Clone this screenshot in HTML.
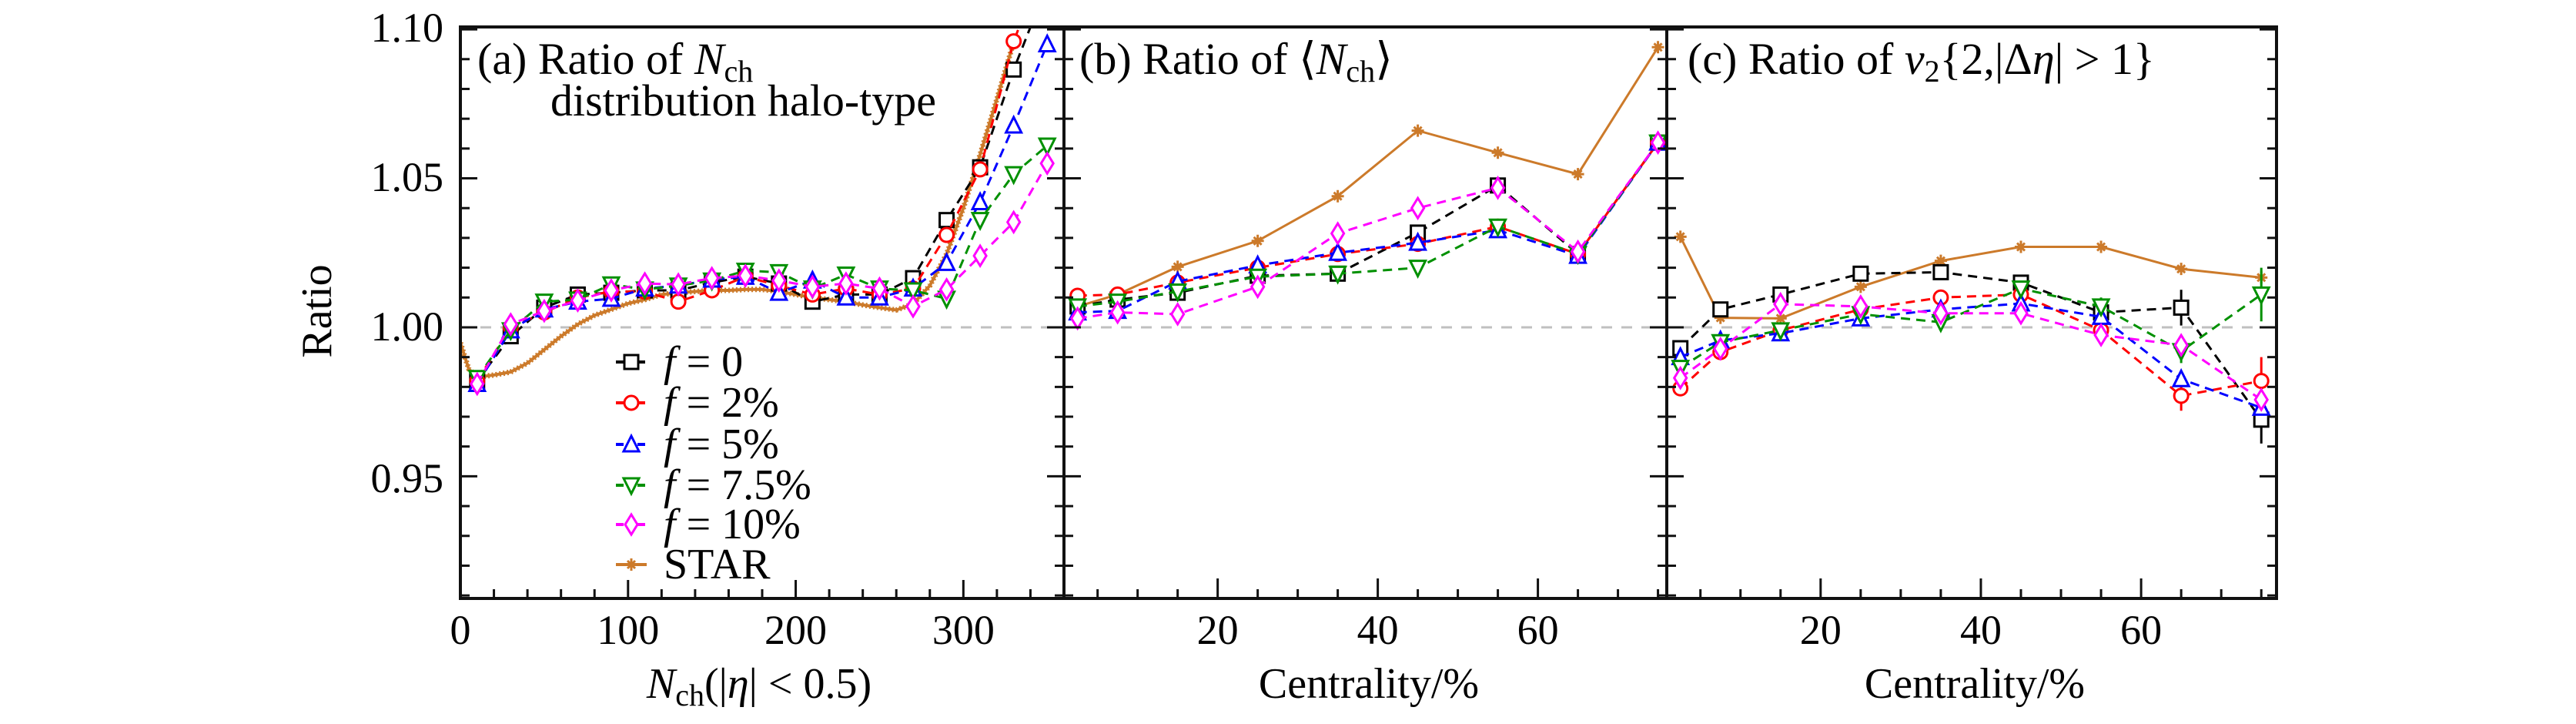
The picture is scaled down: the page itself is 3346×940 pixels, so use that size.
<!DOCTYPE html>
<html><head><meta charset="utf-8"><style>
html,body{margin:0;padding:0;background:#fff;}
svg, svg text{font-family:"Liberation Serif","DejaVu Serif","Noto Serif CJK SC",serif;}
</style></head><body>
<svg id="chart" width="3346" height="935" viewBox="0 0 3346 935" xmlns="http://www.w3.org/2000/svg">
<rect x="0" y="0" width="3346" height="935" fill="#fff"/>
<g id="plots"></g>
<g id="frames"></g>
<g font-size="54" text-anchor="end">
<text x="576" y="54">1.10</text>
<text x="576" y="248">1.05</text>
<text x="576" y="442">1.00</text>
<text x="576" y="639">0.95</text>
</g>
<text x="0" y="0" font-size="56" text-anchor="middle" transform="translate(430,404) rotate(-90)">Ratio</text>
<g font-size="54" text-anchor="middle" id="xticklabels"></g>
<text x="986" y="906" font-size="56" text-anchor="middle"><tspan font-style="italic">N</tspan><tspan font-size="40" dy="10">ch</tspan><tspan dy="-10">(|</tspan><tspan font-style="italic">η</tspan><tspan>| &lt; 0.5)</tspan></text>
<text x="1778" y="906" font-size="56" text-anchor="middle">Centrality/%</text>
<text x="2565" y="906" font-size="56" text-anchor="middle">Centrality/%</text>
<text x="620" y="96" font-size="58">(a)  Ratio of <tspan font-style="italic">N</tspan><tspan font-size="40" dy="10">ch</tspan></text>
<text x="715" y="150" font-size="58">distribution halo-type</text>
<text x="1402" y="96" font-size="58">(b)  Ratio of ⟨<tspan font-style="italic">N</tspan><tspan font-size="40" dy="10">ch</tspan><tspan dy="-10">⟩</tspan></text>
<text x="2192" y="96" font-size="58">(c)  Ratio of <tspan font-style="italic">v</tspan><tspan font-size="40" dy="10">2</tspan><tspan dy="-10">{2,|Δ</tspan><tspan font-style="italic">η</tspan><tspan>| &gt; 1}</tspan></text>
<g id="legend"></g>
</svg>
<script>
// ---- data ----
const seriesNames = ["f=0","f=2%","f=5%","f=7.5%","f=10%"];
const seriesColors = ["#000000","#ff0000","#0000ff","#009000","#ff00ff"];
const starColor = "#cc7a2a";
// panel a
const nchX = [10,30,50,70,90,110,130,150,170,190,210,230,250,270,290,310,330,350];
const aF0   = [0.982,0.997,1.0066,1.011,1.0116,1.0124,1.0124,1.015,1.017,1.0147,1.0086,1.011,1.011,1.0165,1.036,1.0537,1.0865,1.115];
const aF2   = [0.982,1.000,1.005,1.010,1.012,1.012,1.0086,1.0124,1.017,1.014,1.011,1.013,1.011,1.013,1.031,1.053,1.096,1.125];
const aF5   = [0.981,0.999,1.006,1.0086,1.0096,1.013,1.014,1.016,1.017,1.0116,1.0157,1.010,1.010,1.013,1.0216,1.042,1.0677,1.095];
const aF75  = [0.983,0.999,1.0086,1.0093,1.0144,1.0127,1.014,1.0157,1.019,1.0185,1.013,1.0177,1.013,1.0124,1.0096,1.036,1.0514,1.061];
const aF10  = [0.981,1.001,1.0055,1.009,1.0124,1.0147,1.0144,1.0165,1.0173,1.0157,1.0136,1.0147,1.013,1.007,1.0127,1.024,1.0353,1.055];
const starAX = [0,5,10,20,30,40,50,60,70,80,90,100,110,120,130,140,150,160,170,180,190,200,210,220,230,240,250,260,270,280,290,300,310,320,330];
const starAY = [0.9948,0.986,0.9833,0.984,0.985,0.988,0.9925,0.997,1.001,1.004,1.006,1.008,1.0093,1.011,1.0116,1.012,1.0124,1.0124,1.0127,1.0127,1.012,1.011,1.010,1.0093,1.0086,1.0075,1.0066,1.0058,1.0078,1.014,1.0246,1.040,1.058,1.0766,1.0957];
// panel b
const centX = [2.5,7.5,15,25,35,45,55,65,75];
const bF0  = [1.007,1.0093,1.0116,1.0173,1.018,1.0318,1.0476,1.0246,1.062];
const bF2  = [1.0106,1.011,1.015,1.020,1.0246,1.028,1.0338,1.0246,1.062];
const bF5  = [1.005,1.0055,1.0154,1.0208,1.025,1.0284,1.0326,1.024,1.062];
const bF75 = [1.007,1.0086,1.012,1.017,1.018,1.020,1.0338,1.0246,1.062];
const bF10 = [1.003,1.005,1.0044,1.0136,1.0315,1.040,1.0468,1.0254,1.062];
const bStar= [1.007,1.011,1.0203,1.029,1.044,1.066,1.0586,1.0514,1.094];
// panel c
const cF0  = [0.993,1.006,1.011,1.018,1.0185,1.015,1.005,1.0066,0.969];
const cF2  = [0.9795,0.9917,0.999,1.006,1.010,1.011,0.999,0.977,0.982];
const cF5  = [0.990,0.9956,0.998,1.003,1.006,1.008,1.0035,0.9826,0.973];
const cF75 = [0.9864,0.995,0.999,1.0044,1.0017,1.013,1.007,0.992,1.011];
const cF10 = [0.983,0.9928,1.0078,1.007,1.0047,1.0047,0.9974,0.994,0.9757];
const cStar= [1.0304,1.0032,1.003,1.0136,1.0223,1.027,1.027,1.0196,1.0167];
const cErrF0  = [0.002,0.002,0.002,0.002,0.002,0.002,0.003,0.006,0.008];
const cErrF2  = [0.002,0.002,0.002,0.002,0.002,0.002,0.003,0.005,0.008];
const cErrF75 = [0.002,0.002,0.002,0.002,0.002,0.002,0.003,0.004,0.009];
const yTicksMajor = [0.95,1.00,1.05,1.10];
const aTickLabels = [0,100,200,300];
const cTickLabels = [20,40,60];

// ---- layout ----
const NS="http://www.w3.org/2000/svg";
const TOP=35, BOT=777;
const Y0=0.909, Y1=1.1008;
function sy(v){return BOT-(v-Y0)/(Y1-Y0)*(BOT-TOP);}
const panels=[
 {key:"a",x0:598,x1:1382,d0:0,d1:360},
 {key:"b",x0:1382,x1:2165,d0:0.8,d1:76.1},
 {key:"c",x0:2165,x1:2957,d0:0.8,d1:76.9}
];
function sxf(p){return v=>p.x0+(v-p.d0)/(p.d1-p.d0)*(p.x1-p.x0);}
function el(tag,attrs,parent){const e=document.createElementNS(NS,tag);for(const k in attrs)e.setAttribute(k,attrs[k]);parent.appendChild(e);return e;}
const plots=document.getElementById("plots");
const frames=document.getElementById("frames");

function marker(g,kind,x,y,color){
  const s=9;let m;
  if(kind===0) m=el("rect",{x:x-s,y:y-s,width:2*s,height:2*s,fill:"#fff",stroke:color,"stroke-width":3},g);
  else if(kind===1) m=el("circle",{cx:x,cy:y,r:s,fill:"#fff",stroke:color,"stroke-width":3},g);
  else if(kind===2) m=el("polygon",{points:`${x},${y-s-2} ${x+s+1},${y+s} ${x-s-1},${y+s}`,fill:"#fff",stroke:color,"stroke-width":3},g);
  else if(kind===3) m=el("polygon",{points:`${x},${y+s+2} ${x+s+1},${y-s} ${x-s-1},${y-s}`,fill:"#fff",stroke:color,"stroke-width":3},g);
  else if(kind===4) m=el("polygon",{points:`${x},${y-s-4} ${x+s-1},${y} ${x},${y+s+4} ${x-s+1},${y}`,fill:"#fff",stroke:color,"stroke-width":3},g);
  else { m=el("path",{d:`M${x-8},${y}h16M${x},${y-8}v16M${x-5},${y-5}l10,10M${x+5},${y-5}l-10,10`,stroke:color,"stroke-width":3},g);}
  return m;
}

function drawSeries(p,xs,ys,kind,color,name,errs,dashed){
  const sx=sxf(p);
  const g=el("g",{"clip-path":`url(#clip-${p.key})`},plots);
  
  
  const pts=xs.map((x,i)=>`${sx(x).toFixed(1)},${sy(ys[i]).toFixed(1)}`).join(" ");
  const line=el("polyline",{points:pts,fill:"none",stroke:color,"stroke-width":3,"stroke-dasharray":dashed?"12,8":"none"},g);
  
  
  xs.forEach((x,i)=>{
    if(errs){el("line",{x1:sx(x),x2:sx(x),y1:sy(ys[i]-errs[i]),y2:sy(ys[i]+errs[i]),stroke:color,"stroke-width":3},g);}
    const m=marker(g,kind,sx(x),sy(ys[i]),color);
    
    
  });
}

const defs=el("defs",{},document.getElementById("chart"));
panels.forEach(p=>{const c=el("clipPath",{id:"clip-"+p.key},defs);el("rect",{x:p.x0,y:TOP,width:p.x1-p.x0,height:BOT-TOP},c);});

const ref=el("line",{x1:598,x2:2957,y1:sy(1),y2:sy(1),stroke:"#c0c0c0","stroke-width":3,"stroke-dasharray":"14,12"},plots);



const pa=panels[0];
(function(){
  const sx=sxf(pa);
  const g=el("g",{"clip-path":"url(#clip-a)"},plots);
  
  
  const pts=starAX.map((x,i)=>`${sx(x).toFixed(1)},${sy(starAY[i]).toFixed(1)}`).join(" ");
  el("polyline",{points:pts,fill:"none",stroke:starColor,"stroke-width":7,"stroke-linejoin":"round","stroke-dasharray":"2,3"},g);
  el("polyline",{points:pts,fill:"none",stroke:starColor,"stroke-width":4,"stroke-linejoin":"round"},g);
})();
const aSets=[aF0,aF2,aF5,aF75,aF10];
aSets.forEach((ys,k)=>drawSeries(pa,nchX,ys,k,seriesColors[k],"series-a-"+k,null,true));

const pb=panels[1];
drawSeries(pb,centX,bStar,5,starColor,"star-b",null,false);
[bF0,bF2,bF5,bF75,bF10].forEach((ys,k)=>drawSeries(pb,centX,ys,k,seriesColors[k],"series-b-"+k,null,true));
const pc=panels[2];
drawSeries(pc,centX,cStar,5,starColor,"star-c",null,false);
const cErr=[cErrF0,cErrF2,null,cErrF75,null];
[cF0,cF2,cF5,cF75,cF10].forEach((ys,k)=>drawSeries(pc,centX,ys,k,seriesColors[k],"series-c-"+k,cErr[k],true));

const ft=el("g",{stroke:"#111","stroke-width":4,fill:"none"},frames);


el("rect",{x:598,y:TOP,width:2957-598,height:BOT-TOP},ft);
el("line",{x1:1382,x2:1382,y1:TOP,y2:BOT},ft);
el("line",{x1:2165,x2:2165,y1:TOP,y2:BOT},ft);
const tk=el("g",{stroke:"#111","stroke-width":3},frames);


for(let i=0;i<=19;i++){
  const v=+(0.91+i*0.01).toFixed(2);
  const y=sy(v);
  const major=yTicksMajor.some(t=>Math.abs(t-v)<1e-6);
  const L=major?22:12;
  el("line",{x1:598,x2:598+L,y1:y,y2:y},tk);
  el("line",{x1:1382-L,x2:1382+L,y1:y,y2:y},tk);
  el("line",{x1:2165-L,x2:2165+L,y1:y,y2:y},tk);
  el("line",{x1:2957-L,x2:2957,y1:y,y2:y},tk);
}
const xl=document.getElementById("xticklabels");
const sa=sxf(pa);
for(let v=20;v<360;v+=20){const major=v%100===0;el("line",{x1:sa(v),x2:sa(v),y1:BOT,y2:BOT-(major?24:12)},tk);}
aTickLabels.forEach(v=>{const t=el("text",{x:sa(v),y:836},xl);t.textContent=v;});
[pb,pc].forEach(p=>{
  const s=sxf(p);
  for(let v=5;v<=75;v+=5){const major=v%20===0;el("line",{x1:s(v),x2:s(v),y1:BOT,y2:BOT-(major?26:12)},tk);}
  cTickLabels.forEach(v=>{const t=el("text",{x:s(v),y:836},xl);t.textContent=v;});
});

const lg=document.getElementById("legend");
const legRows=[470,523,577,630,681,733];
const legLabels=["0","2%","5%","7.5%","10%"];
for(let k=0;k<6;k++){
  const y=legRows[k];
  const color=k<5?seriesColors[k]:starColor;
  const g=el("g",{},lg);
  
  
  el("line",{x1:800,x2:840,y1:y,y2:y,stroke:color,"stroke-width":4,"stroke-dasharray":k<5?"10,4":"none"},g);
  marker(g,k,820,y,color);
  const t=el("text",{x:862,y:y+18,"font-size":56},g);
  if(k<5){
    const f=el("tspan",{"font-style":"italic"},t);f.textContent="f";
    const r=el("tspan",{},t);r.textContent=" = "+legLabels[k];
  } else t.textContent="STAR";
}
</script>
</body></html>
